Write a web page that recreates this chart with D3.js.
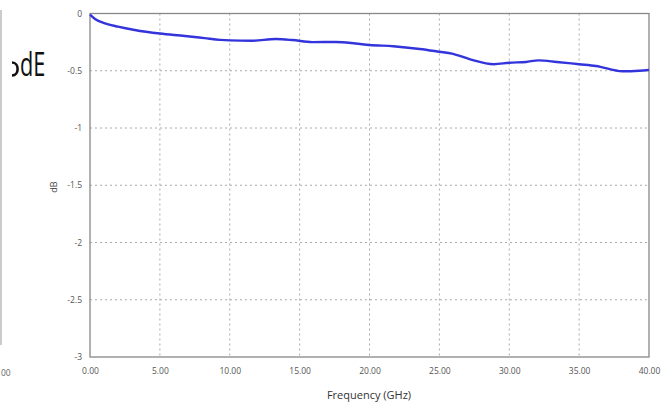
<!DOCTYPE html>
<html><head><meta charset="utf-8">
<script src="https://cdn.jsdelivr.net/npm/d3@7"></script>
<style>body{margin:0;background:#fff}svg{display:block}</style>
</head><body>
<script>
const freqGHz = [0,0.36,1.07,2.0,3.2,5.0,6.8,8.2,9.3,10.0,11.6,13.3,14.5,15.9,17.6,19.0,20.0,21.7,23.6,25.0,25.9,27.2,28.9,30.0,31.2,32.1,33.4,35.0,36.2,38.1,39.3,40.0];
const lossDB = [-0.01,-0.048,-0.086,-0.115,-0.144,-0.175,-0.196,-0.215,-0.230,-0.235,-0.238,-0.223,-0.232,-0.25,-0.249,-0.262,-0.275,-0.286,-0.31,-0.334,-0.35,-0.40,-0.443,-0.43,-0.423,-0.409,-0.423,-0.443,-0.458,-0.505,-0.50,-0.493];
const xTicks = [0,5,10,15,20,25,30,35,40];
const yTicks = [0,-0.5,-1,-1.5,-2,-2.5,-3];

const W=669,H=405;
const svg=d3.select("body").append("svg").attr("width",W).attr("height",H);
const x=d3.scaleLinear().domain([0,40]).range([90,649]);
const y=d3.scaleLinear().domain([-3,0]).range([357,13.5]);
const font="'Open Sans', 'DejaVu Sans', sans-serif";

// left fragment of neighbouring panel
svg.append("line").attr("x1",1).attr("x2",1).attr("y1",10).attr("y2",345).attr("stroke","#aaa").attr("stroke-width",1.2);
svg.append("text").attr("x",1).attr("y",376).attr("font-family",font).attr("font-size",8.5).attr("fill","#666").text("00");
svg.append("path").attr("d","M12,62.5 C19.5,62.5 19.5,75.5 12,75.5").attr("fill","none").attr("stroke","#111").attr("stroke-width",2.6);
svg.append("text").attr("transform","translate(20,76) scale(0.68,1)").attr("font-family",font).attr("font-size",32).attr("fill","#111").text("dE");

// grid
const g=svg.append("g");
g.selectAll("line.gx").data(xTicks.slice(1,-1)).join("line")
 .attr("x1",d=>x(d)).attr("x2",d=>x(d)).attr("y1",y(0)).attr("y2",y(-3))
 .attr("stroke","#aaa").attr("stroke-width",1).attr("stroke-dasharray","2,3");
g.selectAll("line.gy").data(yTicks.slice(1,-1)).join("line")
 .attr("x1",x(0)).attr("x2",x(40)).attr("y1",d=>y(d)).attr("y2",d=>y(d))
 .attr("stroke","#aaa").attr("stroke-width",1).attr("stroke-dasharray","2,3");

// frame
svg.append("rect").attr("x",x(0)).attr("y",y(0)).attr("width",x(40)-x(0)).attr("height",y(-3)-y(0))
 .attr("fill","none").attr("stroke","#888").attr("stroke-width",1.3);

// axes
const xa=svg.append("g").attr("transform",`translate(0,${y(-3)})`)
 .call(d3.axisBottom(x).tickValues(xTicks).tickFormat(d3.format(".2f")).tickSize(0).tickPadding(11));
const ya=svg.append("g").attr("transform",`translate(${x(0)},0)`)
 .call(d3.axisLeft(y).tickValues(yTicks).tickFormat(d=>d===0?"0":String(d)).tickSize(0).tickPadding(8));
[xa,ya].forEach(a=>{a.select(".domain").remove();a.selectAll("text").attr("font-family",font).attr("font-size",8.5).attr("fill","#555");});

// curve
svg.append("path").datum(freqGHz.map((f,i)=>[f,lossDB[i]]))
 .attr("d",d3.line().x(d=>x(d[0])).y(d=>y(d[1])).curve(d3.curveMonotoneX))
 .attr("fill","none").attr("stroke","#3434dc").attr("stroke-width",2.4);

// labels
svg.append("text").attr("x",369).attr("y",399).attr("text-anchor","middle").attr("font-family",font).attr("font-size",11).attr("fill","#333").text("Frequency (GHz)");
svg.append("text").attr("transform","translate(57,187) rotate(-90)").attr("text-anchor","middle").attr("font-family",font).attr("font-size",9).attr("fill","#444").text("dB");
</script>
</body></html>
